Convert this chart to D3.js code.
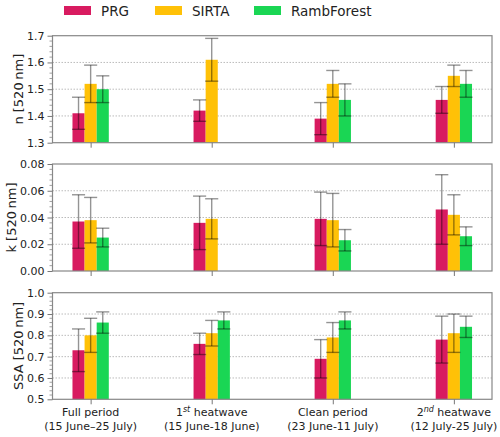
<!DOCTYPE html>
<html><head><meta charset="utf-8">
<script src="https://cdn.jsdelivr.net/npm/d3@7"></script>
<style>body{margin:0;background:#fff}svg{display:block;font-family:"DejaVu Sans",sans-serif}</style>
</head><body><svg id="c" width="500" height="437"></svg>
<script>
const periods = ["Full period", "1st heatwave", "Clean period", "2nd heatwave"];
const periodDates = ["(15 June–25 July)", "(15 June-18 June)", "(23 June-11 July)", "(12 July-25 July)"];
const sites = ["PRG", "SIRTA", "RambForest"];
const colors = ["#d81b60", "#ffc107", "#1ad654"];

// n [520 nm]
const nPRG = [1.41, 1.42, 1.39, 1.46], nPRGerr = [0.06, 0.04, 0.06, 0.05];
const nSIRTA = [1.52, 1.61, 1.52, 1.55], nSIRTAerr = [0.07, 0.08, 0.05, 0.04];
const nRamb = [1.50, null, 1.46, 1.52], nRamberr = [0.05, null, 0.06, 0.05];
// k [520 nm]
const kPRG = [0.037, 0.036, 0.039, 0.046], kPRGerr = [0.020, 0.020, 0.020, 0.026];
const kSIRTA = [0.038, 0.039, 0.038, 0.042], kSIRTAerr = [0.017, 0.015, 0.020, 0.015];
const kRamb = [0.025, null, 0.023, 0.026], kRamberr = [0.007, null, 0.008, 0.007];
// SSA [520 nm]
const sPRG = [0.73, 0.76, 0.69, 0.78], sPRGerr = [0.10, 0.05, 0.09, 0.11];
const sSIRTA = [0.80, 0.81, 0.79, 0.81], sSIRTAerr = [0.08, 0.06, 0.07, 0.09];
const sRamb = [0.86, 0.87, 0.87, 0.84], sRamberr = [0.05, 0.04, 0.04, 0.05];

const nTicks = [1.3, 1.4, 1.5, 1.6, 1.7];
const kTicks = [0.00, 0.02, 0.04, 0.06, 0.08];
const sTicks = [0.5, 0.6, 0.7, 0.8, 0.9, 1.0];

const panels = [
  {label: "n [520\u2009nm]", dom: [1.3, 1.7], ticks: nTicks, minor: 0.02, fmt: d3.format(".1f"), lx: 22.5,
   vals: [nPRG, nSIRTA, nRamb], errs: [nPRGerr, nSIRTAerr, nRamberr], top: 35.7, bot: 142.7},
  {label: "k [520\u2009nm]", dom: [0, 0.08], ticks: kTicks, minor: 0.004, fmt: d3.format(".2f"), lx: 15.5,
   vals: [kPRG, kSIRTA, kRamb], errs: [kPRGerr, kSIRTAerr, kRamberr], top: 164, bot: 271},
  {label: "SSA [520\u2009nm]", dom: [0.5, 1.0], ticks: sTicks, minor: 0.02, fmt: d3.format(".1f"), lx: 22.5,
   vals: [sPRG, sSIRTA, sRamb], errs: [sPRGerr, sSIRTAerr, sRamberr], top: 292.7, bot: 399.3}
];

const svg = d3.select("#c");
const left = 52.5, right = 492;
const x = d3.scaleLinear().domain([-0.315, 3.315]).range([left, right]);
const bw = 0.1;
const offs = [-0.1, 0, 0.1];

panels.forEach(p => {
  const y = d3.scaleLinear().domain(p.dom).range([p.bot, p.top]);
  const g = svg.append("g");
  g.selectAll(".grid").data(p.ticks.slice(1, -1)).join("line")
    .attr("x1", left).attr("x2", right).attr("y1", d => y(d)).attr("y2", d => y(d))
    .attr("stroke", "#bbb").attr("stroke-width", 1).attr("stroke-dasharray", "1.5,1.5");
  sites.forEach((s, si) => {
    p.vals[si].forEach((v, pi) => {
      if (v == null) return;
      const cx = pi + offs[si];
      g.append("rect").attr("x", x(cx - bw / 2)).attr("width", x(cx + bw / 2) - x(cx - bw / 2))
        .attr("y", y(v)).attr("height", y(p.dom[0]) - y(v)).attr("fill", colors[si]);
    });
  });
  sites.forEach((s, si) => {
    p.vals[si].forEach((v, pi) => {
      if (v == null) return;
      const e = p.errs[si][pi];
      const cx = x(pi + offs[si]);
      const hw = (x(bw) - x(0)) / 2 + 0.5;
      const eg = g.append("g").attr("stroke", "#000").attr("stroke-opacity", 0.42).attr("stroke-width", 1.4);
      eg.append("line").attr("x1", cx).attr("x2", cx).attr("y1", y(v - e)).attr("y2", y(v + e));
      eg.append("line").attr("x1", cx - hw).attr("x2", cx + hw).attr("y1", y(v - e)).attr("y2", y(v - e));
      eg.append("line").attr("x1", cx - hw).attr("x2", cx + hw).attr("y1", y(v + e)).attr("y2", y(v + e));
    });
  });
  g.append("rect").attr("x", left).attr("y", p.top).attr("width", right - left).attr("height", p.bot - p.top)
    .attr("fill", "none").attr("stroke", "#888").attr("stroke-width", 1.2);
  const ya = d3.axisLeft(y).tickValues(p.ticks).tickFormat(p.fmt).tickSize(5).tickPadding(3);
  const yg = g.append("g").attr("transform", `translate(${left},0)`).call(ya);
  yg.select(".domain").remove();
  yg.selectAll(".tick line").attr("stroke", "#777");
  yg.selectAll("text").attr("font-size", 11).attr("fill", "#222").attr("font-family", "DejaVu Sans");
  const minors = d3.range(p.dom[0], p.dom[1] + 1e-9, p.minor).filter(v => !p.ticks.some(t => Math.abs(t - v) < 1e-9));
  g.selectAll(".minor").data(minors).join("line")
    .attr("x1", left - 3).attr("x2", left).attr("y1", d => y(d)).attr("y2", d => y(d))
    .attr("stroke", "#888").attr("stroke-width", 0.8);
  const xa = d3.axisBottom(x).tickValues([0, 1, 2, 3]).tickFormat("").tickSize(5);
  const xg = g.append("g").attr("transform", `translate(0,${p.bot})`).call(xa);
  xg.select(".domain").remove();
  xg.selectAll(".tick line").attr("stroke", "#777");
  g.append("text").attr("transform", `translate(${p.lx},${(p.top + p.bot) / 2}) rotate(-90)`)
    .attr("text-anchor", "middle").attr("font-size", 13).attr("fill", "#222").text(p.label);
});

const lastBot = panels[2].bot;
periods.forEach((name, i) => {
  const t = svg.append("text").attr("x", x(i)).attr("y", lastBot + 17).attr("text-anchor", "middle")
    .attr("font-size", 11).attr("fill", "#222");
  const m = name.match(/^(\d)(st|nd)( .*)$/);
  if (m) {
    t.append("tspan").text(m[1]);
    t.append("tspan").attr("dy", -4.5).attr("font-size", 8).attr("font-style", "italic").text(m[2]);
    t.append("tspan").attr("dy", 4.5).text(m[3]);
  } else t.text(name);
  svg.append("text").attr("x", x(i)).attr("y", lastBot + 30.5).attr("text-anchor", "middle")
    .attr("font-size", 11).attr("fill", "#222").text(periodDates[i]);
});

const legX = [64, 155, 254];
sites.forEach((s, i) => {
  svg.append("rect").attr("x", legX[i]).attr("y", 6).attr("width", 27).attr("height", 9).attr("fill", colors[i]);
  svg.append("text").attr("x", legX[i] + 37).attr("y", 16).attr("font-size", 13.5).attr("fill", "#222").text(s);
});
</script></body></html>
